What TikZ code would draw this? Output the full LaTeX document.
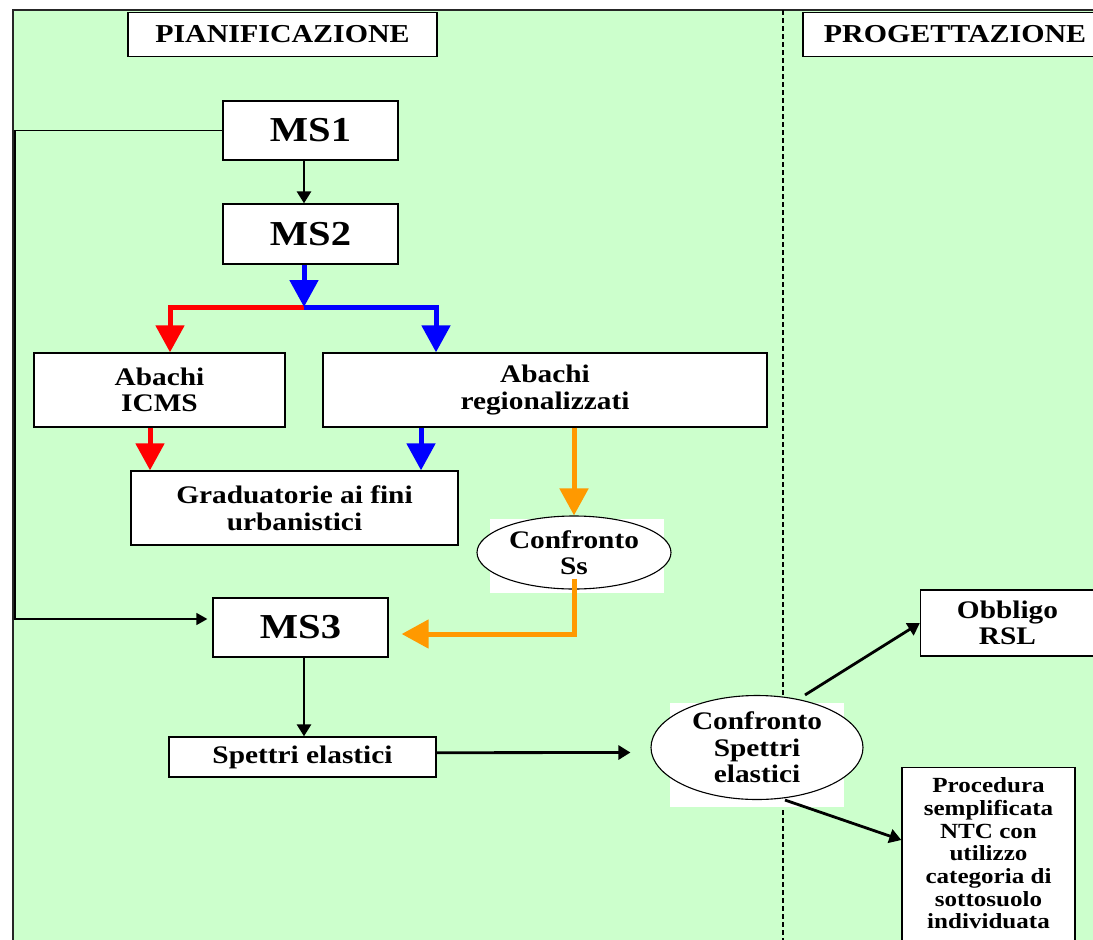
\documentclass[tikz,border=0pt]{standalone}
\usepackage{fontspec}
\setmainfont{Liberation Serif}[FakeStretch=1.16]
\usetikzlibrary{arrows.meta,shapes.geometric}
\definecolor{fondo}{HTML}{CCFFCC}
\definecolor{arancio}{HTML}{FF9900}
\begin{document}
\begin{tikzpicture}[x=1pt,y=-1pt,
  blocco/.style={draw,line width=1.3pt,fill=white,align=center,inner sep=0pt,font=\fontsize{25.3}{26.5}\selectfont\bfseries},
  grande/.style={blocco,font=\fontsize{35}{38}\selectfont\bfseries},
  testata/.style={blocco,font=\fontsize{25.8}{28}\selectfont\bfseries},
  ovale/.style={blocco,ellipse,line width=1.1pt},
  piccolo/.style={blocco,font=\fontsize{21.6}{22.7}\selectfont\bfseries},
  nera/.style={line width=2.8pt,-{Triangle[length=12pt,width=14pt]}},
  sottile/.style={line width=1.5pt,-{Triangle[length=11pt,width=12pt]}},
  grossa/.style={line width=5pt,-{Triangle[length=27pt,width=28pt]}},
  tratteggio/.style={line width=2.6pt,dash pattern=on 5pt off 3pt}]
\useasboundingbox (0,0) rectangle (1093,940);
\clip (0,0) rectangle (1093,940);
\fill[fondo] (13,10) rectangle (1100,950);
\draw[line width=2pt,black!85] (13,950) -- (13,10) -- (1100,10);
\draw[tratteggio] (783,10) -- (783,950);
\fill[white] (490,519) rectangle (664,593);
\fill[white] (670,703) rectangle (844,807);

\node[testata,minimum width=309pt,minimum height=44pt] (pian) at (282.5,34.5) {PIANIFICAZIONE};
\node[testata,minimum width=304pt,minimum height=44pt] (prog) at (955,34.5) {PROGETTAZIONE};
\node[grande,minimum width=175pt,minimum height=59pt] (ms1) at (310.5,130.5) {MS1};
\node[grande,minimum width=175pt,minimum height=60pt] (ms2) at (310.5,234) {MS2};
\node[blocco,minimum width=251pt,minimum height=74pt] (icms) at (159.5,390) {Abachi\\ICMS};
\node[blocco,minimum width=444pt,minimum height=74pt] (reg) at (545,390) {Abachi\\regionalizzati};
\node[blocco,minimum width=327pt,minimum height=74pt] (grad) at (294.5,508) {Graduatorie ai fini\\urbanistici};
\node[ovale,minimum width=194pt,minimum height=73pt] (ss) at (574,552.5) {Confronto\\Ss};
\node[grande,minimum width=175pt,minimum height=59pt] (ms3) at (300.5,627.5) {MS3};
\node[blocco,minimum width=267pt,minimum height=40pt] (spe) at (302.5,757) {Spettri elastici};
\node[ovale,minimum width=212pt,minimum height=104pt] (cse) at (757,747.5) {Confronto\\Spettri\\elastici};
\node[blocco,minimum width=174pt,minimum height=66pt] (obb) at (1007.5,623) {Obbligo\\RSL};
\node[piccolo,minimum width=173pt,inner ysep=10pt,anchor=north] (proc) at (988.5,767) {Procedura\\semplificata\\NTC con\\utilizzo\\categoria di\\sottosuolo\\individuata\rule[-30pt]{0pt}{0pt}};

\coordinate (split) at (304,307);
\coordinate (binario) at (15,0);

\draw[nera] ([xshift=-6.5pt]ms1.south) -- ([xshift=-6.5pt]ms2.north);
\draw[sottile] (ms1.west) -- (ms1.west -| binario) |- ([xshift=-5pt,yshift=8.5pt]ms3.west);
\draw[grossa,red] (split) -| ([xshift=10.5pt]icms.north);
\draw[grossa,blue] (split) -| ([xshift=-109pt]reg.north);
\draw[grossa,blue] ([xshift=-6.5pt]ms2.south) -- (split);
\draw[grossa,red] ([xshift=-9.5pt]icms.south) -- ([xshift=-9.5pt]icms.south |- grad.north);
\draw[grossa,blue] ([xshift=-124pt]reg.south) -- ([xshift=-124pt]reg.south |- grad.north);
\draw[grossa,arancio] (reg.south -| ss.north) -- (ss.north);
\draw[grossa,arancio] ([yshift=11pt]ss.south) |- ([xshift=13pt,yshift=-6.5pt]ms3.east);
\draw[nera] ([xshift=3.5pt]ms3.south) -- ([xshift=3.5pt]ms3.south |- spe.north);
\draw[nera] ([yshift=4.3pt]spe.east) -- ([xshift=-20pt,yshift=-5pt]cse.west);
\draw[nera] ([xshift=48pt]cse.north) -- (obb.west);
\draw[nera] ([xshift=28pt]cse.south) -- ([yshift=-73pt]proc.north west);
\end{tikzpicture}
\end{document}
